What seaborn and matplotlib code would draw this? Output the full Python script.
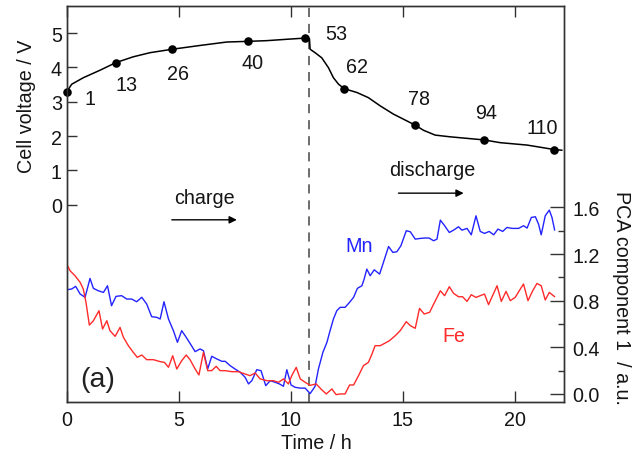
import matplotlib
matplotlib.use("Agg")
import matplotlib.pyplot as plt
import numpy as np
import pandas as pd
import seaborn as sns

# ---- cell voltage during charge / discharge ----
volt_t = [0.00, 0.22, 0.74, 1.49, 2.19, 2.97, 3.72, 4.71, 5.95, 7.14, 8.11, 8.93,
          9.82, 10.64, 10.83, 10.86, 11.08, 11.38, 11.68, 11.90, 12.13, 12.39,
          12.95, 13.46, 13.99, 14.58, 15.52, 15.92, 16.44, 17.11, 18.62, 19.34,
          20.54, 21.75, 22.10]
volt_v = [3.285, 3.51, 3.70, 3.92, 4.14, 4.31, 4.43, 4.53, 4.64, 4.74, 4.76, 4.78,
          4.82, 4.855, 4.84, 4.53, 4.43, 4.28, 3.99, 3.70, 3.51, 3.38,
          3.27, 3.12, 2.88, 2.64, 2.33, 2.17, 2.03, 1.98, 1.89, 1.81,
          1.74, 1.61, 1.59]

# spectra numbers marked on the voltage curve
spec_no = ["1", "13", "26", "40", "53", "62", "78", "94", "110"]
spec_t = [0.00, 2.19, 4.71, 8.11, 10.64, 12.39, 15.52, 18.62, 21.75]
spec_v = [3.285, 4.14, 4.53, 4.76, 4.855, 3.38, 2.33, 1.89, 1.61]

# ---- PCA component 1 ----
mn_t = [0.00, 0.22, 0.40, 0.60, 0.82, 1.04, 1.19, 1.41, 1.64, 1.82, 2.00, 2.20,
        2.45, 2.68, 2.90, 3.12, 3.35, 3.57, 3.79, 4.02, 4.17, 4.34, 4.54, 4.76,
        4.94, 5.13, 5.33, 5.50, 5.73, 5.95, 6.10, 6.29, 6.47, 6.70, 6.92, 7.07,
        7.29, 7.51, 7.74, 7.96, 8.11, 8.26, 8.48, 8.67, 8.88, 9.08, 9.30, 9.49,
        9.67, 9.82, 10.01, 10.19, 10.42, 10.64, 10.86, 11.08, 11.23, 11.43,
        11.61, 11.75, 11.90, 12.05, 12.20, 12.42, 12.62, 12.80, 12.97, 13.17,
        13.27, 13.39, 13.54, 13.72, 13.96, 14.13, 14.36, 14.55, 14.73, 14.91,
        15.15, 15.33, 15.55, 15.77, 16.00, 16.17, 16.37, 16.52, 16.67, 16.86,
        17.07, 17.26, 17.48, 17.63, 17.86, 18.05, 18.26, 18.45, 18.64, 18.85,
        19.05, 19.24, 19.45, 19.64, 19.87, 20.16, 20.38, 20.54, 20.73, 20.91,
        21.05, 21.17, 21.35, 21.53, 21.65, 21.77]
mn_v = [0.894, 0.900, 0.923, 0.857, 0.829, 0.991, 0.906, 0.885, 0.871, 0.928, 0.757, 0.837,
        0.843, 0.814, 0.814, 0.791, 0.829, 0.771, 0.663, 0.657, 0.643, 0.791, 0.643, 0.543,
        0.443, 0.543, 0.486, 0.435, 0.363, 0.386, 0.371, 0.214, 0.323, 0.300, 0.280, 0.280,
        0.243, 0.214, 0.186, 0.143, 0.086, 0.114, 0.208, 0.200, 0.071, 0.114, 0.100, 0.086,
        0.066, 0.208, 0.077, 0.057, 0.050, 0.050, 0.003, 0.065, 0.214, 0.357,
        0.443, 0.543, 0.643, 0.714, 0.743, 0.743, 0.786, 0.829, 0.906, 0.928,
        0.985, 1.071, 1.014, 1.065, 1.028, 1.128, 1.265, 1.214, 1.220, 1.271,
        1.400, 1.391, 1.328, 1.334, 1.338, 1.337, 1.314, 1.328, 1.491, 1.443,
        1.385, 1.405, 1.434, 1.405, 1.420, 1.365, 1.528, 1.394, 1.377, 1.394,
        1.365, 1.414, 1.394, 1.428, 1.420, 1.420, 1.443, 1.423, 1.514, 1.520,
        1.457, 1.365, 1.528, 1.577, 1.514, 1.405]

fe_t = [0.00, 0.15, 0.37, 0.60, 0.74, 0.86, 1.01, 1.19, 1.44, 1.60, 1.79, 1.93,
        2.16, 2.38, 2.53, 2.75, 2.97, 3.15, 3.35, 3.57, 3.87, 4.17, 4.36, 4.54,
        4.73, 4.91, 5.13, 5.33, 5.50, 5.73, 5.90, 6.10, 6.29, 6.47, 6.67, 6.84,
        7.07, 7.37, 7.66, 7.96, 8.18, 8.41, 8.63, 8.93, 9.22, 9.45, 9.67, 9.89,
        10.04, 10.24, 10.42, 10.64, 10.86, 11.13, 11.34, 11.58, 11.83, 12.02,
        12.20, 12.42, 12.62, 12.80, 13.02, 13.24, 13.46, 13.62, 13.76, 13.99,
        14.21, 14.40, 14.66, 14.88, 15.15, 15.33, 15.55, 15.74, 15.95, 16.19,
        16.41, 16.67, 16.86, 17.07, 17.26, 17.48, 17.66, 17.86, 18.05, 18.26,
        18.45, 18.64, 18.82, 19.00, 19.20, 19.39, 19.60, 19.79, 20.01, 20.19,
        20.38, 20.58, 20.79, 20.98, 21.17, 21.35, 21.53, 21.77]
fe_v = [1.114, 1.057, 1.014, 0.957, 0.900, 0.786, 0.591, 0.628, 0.714, 0.557, 0.628, 0.543,
        0.494, 0.571, 0.486, 0.414, 0.357, 0.314, 0.334, 0.294, 0.294, 0.277, 0.271, 0.229,
        0.328, 0.214, 0.285, 0.334, 0.295, 0.214, 0.163, 0.357, 0.200, 0.200, 0.237, 0.200,
        0.200, 0.191, 0.191, 0.171, 0.157, 0.180, 0.129, 0.114, 0.114, 0.100, 0.129, 0.086,
        0.157, 0.228, 0.129, 0.100, 0.074, 0.086, 0.043, 0.000, 0.043, -0.006,
        0.000, 0.000, 0.077, 0.077, 0.157, 0.243, 0.271, 0.343, 0.414, 0.414,
        0.437, 0.457, 0.500, 0.543, 0.620, 0.586, 0.563, 0.734, 0.686, 0.700,
        0.786, 0.885, 0.843, 0.920, 0.863, 0.834, 0.834, 0.794, 0.851, 0.828,
        0.843, 0.857, 0.766, 0.843, 0.928, 0.794, 0.880, 0.800, 0.828, 0.885,
        0.943, 0.800, 0.885, 0.948, 0.928, 0.806, 0.871, 0.834]

switch_t = 10.83          # charge -> discharge
volt_ticks = [0, 1, 2, 3, 4, 5]
pca_ticks = [0.0, 0.4, 0.8, 1.2, 1.6]
time_ticks = [0, 5, 10, 15, 20]

# label placement (time, value) for the spectrum numbers
spec_label_pos = [(1.04, 3.10), (2.65, 3.49), (4.97, 3.82), (8.27, 4.15), (12.05, 5.00),
                  (12.95, 4.04), (15.70, 3.10), (18.71, 2.68), (21.23, 2.26)]

sns.set_style("ticks")
plt.rcParams["font.family"] = ["Liberation Sans", "DejaVu Sans"]
FS = 14.2
EDGE = "#333333"
TXT = "#151515"
BLUE = "#2323ff"
RED = "#ff2a2a"

fig = plt.figure(figsize=(6.38, 4.56), dpi=100)
ax = fig.add_axes([66.7 / 638, 1 - 403 / 456, (564.3 - 66.7) / 638, (403 - 7.3) / 456])
ax2 = ax.twinx()

volt_df = pd.DataFrame({"t": volt_t, "V": volt_v})
spec_df = pd.DataFrame({"t": spec_t, "V": spec_v})
mn_df = pd.DataFrame({"t": mn_t, "pca": mn_v})
fe_df = pd.DataFrame({"t": fe_t, "pca": fe_v})

ax.axvline(switch_t, color="#444444", lw=1.1, dashes=(6, 4.5), zorder=1)

sns.lineplot(data=volt_df, x="t", y="V", ax=ax, color="black", lw=1.1,
             sort=False, estimator=None, zorder=3)
sns.scatterplot(data=spec_df, x="t", y="V", ax=ax, color="black", s=38,
                edgecolor="black", linewidth=0, zorder=4, clip_on=False)
for lab, (lx, ly) in zip(spec_no, spec_label_pos):
    ax.text(lx, ly, lab, fontsize=FS, ha="center", va="center", color=TXT)

sns.lineplot(data=mn_df, x="t", y="pca", ax=ax2, color=BLUE, lw=1.0,
             sort=False, estimator=None)
sns.lineplot(data=fe_df, x="t", y="pca", ax=ax2, color=RED, lw=1.0,
             sort=False, estimator=None)

ax.set_xlim(0, 22.2)
ax.set_ylim(-5.74, 5.78)
ax2.set_ylim(-0.069, 3.325)

ax.set_xticks(time_ticks)
ax.set_yticks(volt_ticks)
ax2.set_yticks(pca_ticks)
ax2.set_yticks([0.2, 0.6, 1.0, 1.4], minor=True)
ax2.set_yticklabels([f"{v:.1f}" for v in pca_ticks])

ax.set_xlabel("")
ax.set_ylabel("")
ax2.set_ylabel("")

ax.tick_params(axis="x", direction="in", top=True, bottom=True, length=8, width=1,
               pad=5.5, labelsize=FS, colors=EDGE, labelcolor=TXT)
ax.tick_params(axis="y", direction="in", left=True, right=False, length=7, width=1,
               pad=3.5, labelsize=FS, colors=EDGE, labelcolor=TXT)
ax2.tick_params(axis="y", which="major", direction="in", right=True, left=False,
                length=10, width=1, pad=6, labelsize=FS, colors=EDGE,
                labelcolor=TXT)
ax2.tick_params(axis="y", which="minor", direction="in", right=True, left=False,
                length=4.5, width=1, colors=EDGE)

for a in (ax, ax2):
    for sp in a.spines.values():
        sp.set_visible(True)
        sp.set_color(EDGE)
        sp.set_linewidth(1.0)

# direction annotations
ax.text(6.13, 0.20, "charge", fontsize=FS, ha="center", va="center", color=TXT)
ax.annotate("", xy=(7.59, -0.436), xytext=(4.69, -0.436),
            arrowprops=dict(arrowstyle="-|>", color="black", lw=1.0,
                            mutation_scale=11, shrinkA=0, shrinkB=0))
ax.text(16.29, 1.04, "discharge", fontsize=FS, ha="center", va="center", color=TXT)
ax.annotate("", xy=(17.71, 0.34), xytext=(14.80, 0.34),
            arrowprops=dict(arrowstyle="-|>", color="black", lw=1.0,
                            mutation_scale=11, shrinkA=0, shrinkB=0))

ax2.text(13.06, 1.271, "Mn", fontsize=FS, color=BLUE, ha="center", va="center")
ax2.text(17.29, 0.50, "Fe", fontsize=FS, color=RED, ha="center", va="center")
ax2.text(1.38, 0.124, "(a)", fontsize=20.5, color="#222222", ha="center", va="center")

# axis titles
fig.text(26 / 638, 1 - 106 / 456, "Cell voltage / V", rotation=90, fontsize=FS,
         ha="center", va="center", color=TXT)
fig.text(316 / 638, 1 - 444 / 456, "Time / h", fontsize=FS,
         ha="center", va="center", color=TXT)
fig.text(621 / 638, 1 - 298 / 456, "PCA component 1  / a.u.", rotation=270,
         fontsize=FS, ha="center", va="center", color=TXT)

fig.savefig("out.png", dpi=100)
